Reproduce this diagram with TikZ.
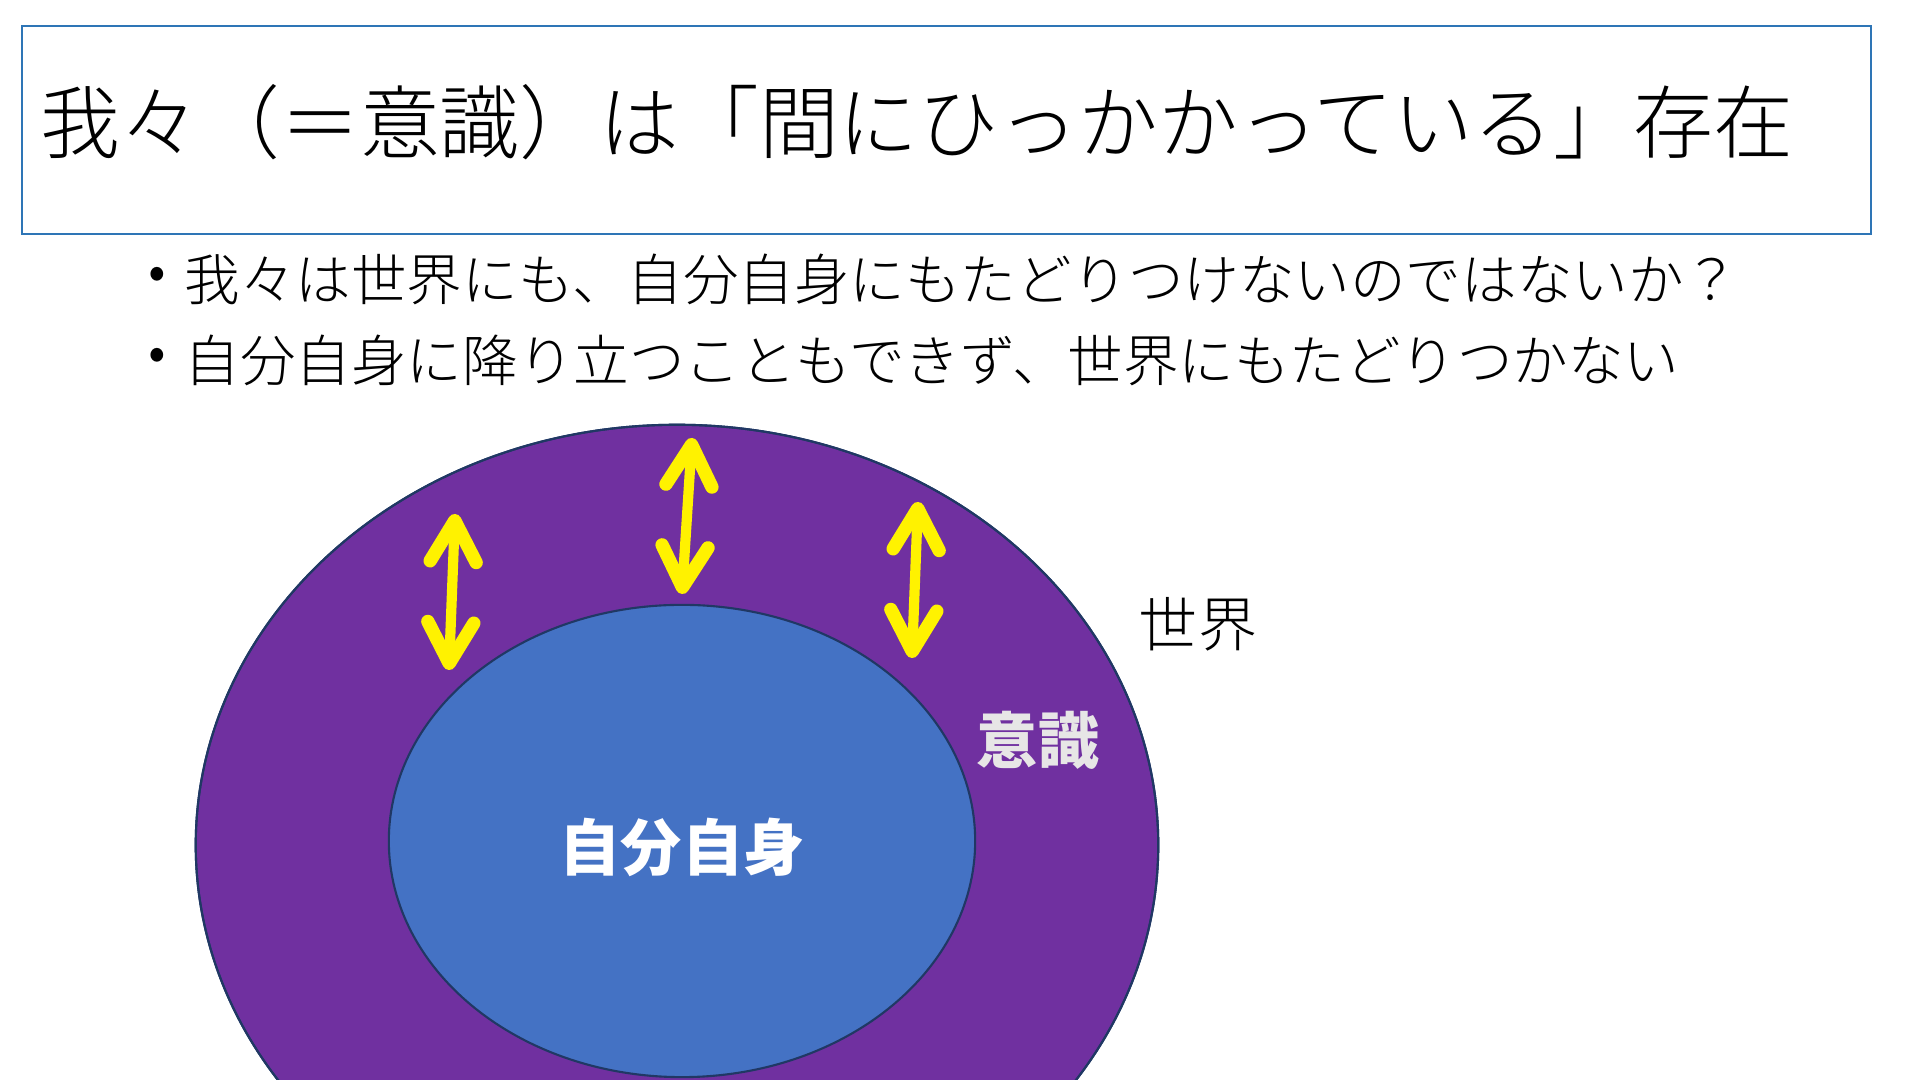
\documentclass[tikz,border=0pt]{standalone}
\usepackage{fontspec}
\setmainfont{Noto Sans CJK JP}
\newfontfamily\jplight{Noto Sans CJK JP Light}
\usetikzlibrary{arrows.meta}
\definecolor{SoulPurple}{RGB}{112,48,160}
\definecolor{SelfBlue}{RGB}{68,114,196}
\definecolor{RimNavy}{RGB}{32,56,100}
\definecolor{FrameBlue}{RGB}{46,117,182}
\definecolor{PaleGray}{RGB}{231,230,230}
\tikzset{
  ring/.style={fill=SoulPurple,draw=RimNavy,line width=0.6pt},
  core/.style={fill=SelfBlue,draw=RimNavy,line width=0.6pt},
  frame/.style={draw=FrameBlue,line width=0.8pt},
  bounce/.style={draw=yellow,line width=2.9pt,
    {Straight Barb[round,length=4.1mm,width=4.6mm,line width=3.8pt]}-{Straight Barb[round,length=4.1mm,width=4.6mm,line width=3.8pt]}},
  headline/.style={anchor=west,inner sep=0pt,font=\jplight\fontsize{22.7pt}{27pt}\selectfont},
  point/.style={anchor=west,inner sep=0pt,font=\jplight\fontsize{15.8pt}{19pt}\selectfont},
  tag/.style={inner sep=0pt,font=\bfseries\fontsize{17.4pt}{21pt}\selectfont},
}
\begin{document}
\begin{tikzpicture}[x=0.01cm,y=-0.01cm]
\useasboundingbox (0,0) rectangle (1920,1080);
\clip (0,0) rectangle (1920,1080);
% title
\draw[frame] (22,26) rectangle (1871,234);
\node[headline] (title) at (40,122) {我々（＝意識）は「間にひっかかっている」存在};
% bullets
\node[point] (dot1) at (148,279) {•};
\node[point] (line1) at (184,279) {我々は世界にも、自分自身にもたどりつけないのではないか？};
\node[point] (dot2) at (148,360) {•};
\node[point] (line2) at (184,360) {自分自身に降り立つこともできず、世界にもたどりつかない};
% ellipses
\fill[ring] (677,845) ellipse [x radius=4.81cm,y radius=4.20cm];
\fill[core] (682,841) ellipse [x radius=2.93cm,y radius=2.36cm];
\draw[ring,fill=none] (677,845) ellipse [x radius=4.81cm,y radius=4.20cm];
% arrows
\coordinate (a1) at (455,514);
\coordinate (b1) at (449,670);
\coordinate (a2) at (692,438);
\coordinate (b2) at (682,594);
\coordinate (a3) at (918,502);
\coordinate (b3) at (912,658);
\draw[bounce] (a1) -- (b1);
\draw[bounce] (a2) -- (b2);
\draw[bounce] (a3) -- (b3);
% labels
\node[point,anchor=center,font=\jplight\fontsize{16.8pt}{20pt}\selectfont] (world) at (1198,624) {世界};
\node[tag,text=PaleGray] (mind) at (1038,740) {意識};
\node[tag,text=white] (self) at (682,847) {自分自身};
\end{tikzpicture}
\end{document}
